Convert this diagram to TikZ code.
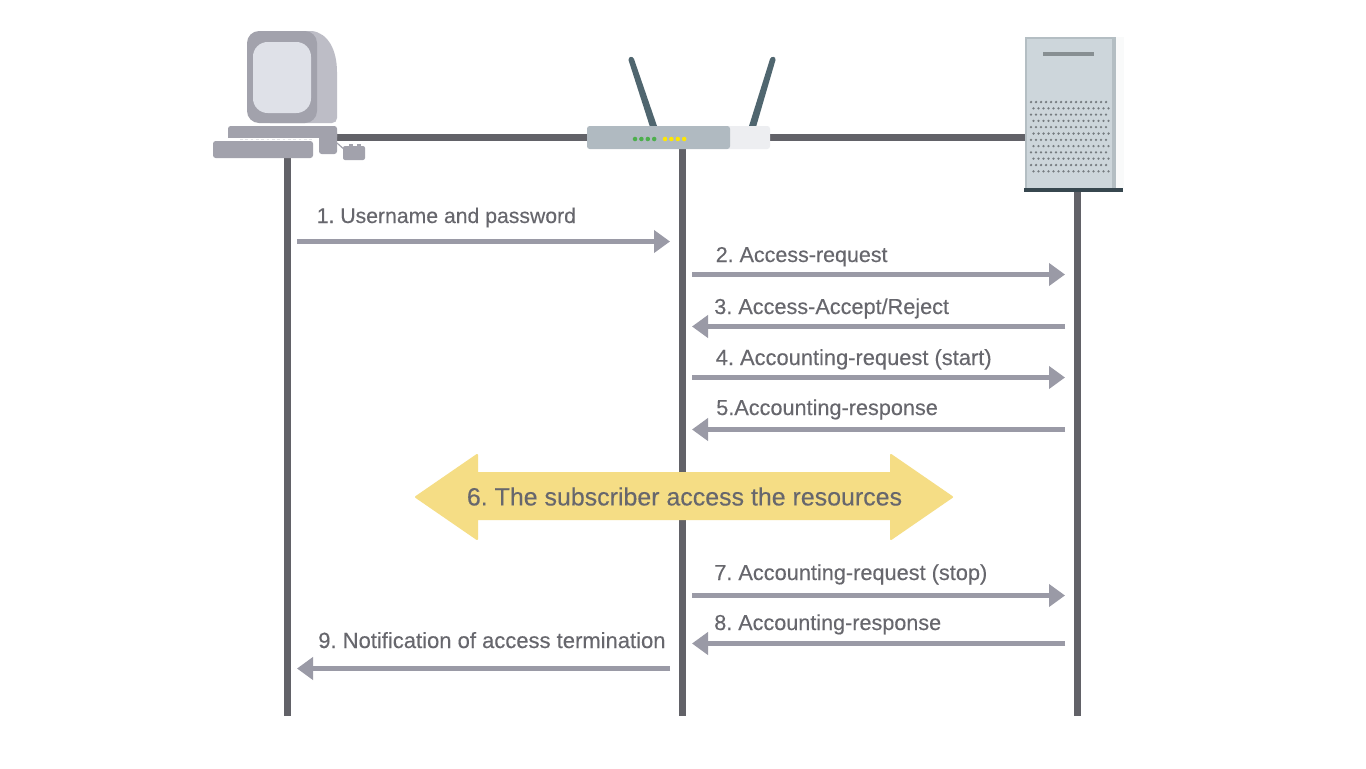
\documentclass[tikz,border=0pt]{standalone}
\usepackage{fontspec}
\setmainfont{Liberation Sans}[FakeBold=0.25]
\frenchspacing
\usetikzlibrary{arrows.meta}
\definecolor{lifeC}{HTML}{626268}
\definecolor{arrC}{HTML}{9A9AA6}
\definecolor{txtC}{HTML}{67676D}
\definecolor{yelC}{HTML}{F5DD85}
\definecolor{monA}{HTML}{A2A2AC}
\definecolor{monB}{HTML}{BDBDC6}
\definecolor{monS}{HTML}{DFE1E8}
\definecolor{rtrC}{HTML}{B0BAC1}
\definecolor{rtrL}{HTML}{EDEEF1}
\definecolor{antC}{HTML}{50666F}
\definecolor{srvC}{HTML}{CDD6DB}
\definecolor{srvS}{HTML}{B4BEC3}
\definecolor{srvD}{HTML}{37474F}
\tikzset{
  x=0.75pt,y=-0.75pt,
  life/.style={draw=lifeC,line width=5pt},
  msg/.style={draw=arrC,line width=3.9pt,-{Triangle[length=12pt,width=16.5pt]},shorten >=0pt},
  lbl/.style={anchor=base west,inner sep=0pt,text=txtC,font=\fontsize{#1}{18}\selectfont},
  big/.style={anchor=center,inner sep=0pt,text=txtC,font=\fontsize{18.7}{22}\selectfont},
  led/.style={circle,inner sep=0pt,minimum size=3.4pt},
}
\begin{document}
\begin{tikzpicture}
\useasboundingbox (0,0) rectangle (1366,768);
\fill[white] (0,0) rectangle (1366,768);
% anchors
\coordinate (pcTop) at (287.8,150);   \coordinate (pcEnd) at (287.8,716);
\coordinate (rtTop) at (682.3,145);   \coordinate (rtEnd) at (682.3,716);
\coordinate (svTop) at (1077.3,188);  \coordinate (svEnd) at (1077.3,716);
\coordinate (busL) at (335,137.5);    \coordinate (busR) at (1030,137.5);
% lifelines
\draw[life] (busL) -- (busR);
\draw[life] (pcTop) -- (pcEnd);
\draw[life] (rtTop) -- (rtEnd);
\draw[life] (svTop) -- (svEnd);
% computer
\draw[monA,line width=0.9pt] (337,143) -- (346,151);
\fill[monB] (270,31) -- (312,31) .. controls (328,33) and (337,50) .. (337,72) -- (337,118) .. controls (337,121) and (335,123) .. (332,123) -- (270,123) -- cycle;
\fill[monA,rounded corners=9pt] (247,31) rectangle (317,123);
\fill[monS,rounded corners=11pt] (253,42) rectangle (311,113);
\fill[monA,rounded corners=2pt] (228,126) rectangle (337,140);
\fill[monA,rounded corners=2pt] (319,130) rectangle (337,154);
\fill[white] (228,137.5) rectangle (319,141);
\fill[monA,rounded corners=2pt] (213,141) rectangle (313,158);
\draw[white!70!monA,line width=0.9pt,dash pattern=on 2pt off 2pt] (240,139.5) -- (312,139.5);
\fill[monA,rounded corners=1.5pt] (343,146) rectangle (365,160);
\fill[monA] (349,144) rectangle (353,147);
\fill[monA] (357,144) rectangle (361,147);
% router
\fill[antC] (628.5,60) .. controls (628.5,56) and (633,56) .. (634,59) -- (657,126) -- (650,127) -- cycle;
\fill[antC] (770,59) .. controls (771,56) and (776,56) .. (775.5,60) -- (756,127) -- (749,126) -- cycle;
\fill[rtrL,rounded corners=2pt] (725,126) rectangle (770,149);
\fill[rtrC,rounded corners=2pt] (587,126) rectangle (730,149);
\foreach \i in {0,1,2,3} {
  \node[led,fill=green!55!black!70!white] (g\i) at (635+6.4*\i,139) {};
  \node[led,fill=yellow!90!orange] (y\i) at (665+6.4*\i,139) {};
}
% server
\fill[white!92!srvS] (1116,37) rectangle (1124,188);
\fill[srvC] (1025,37) rectangle (1116,188);
\fill[srvS] (1025,37) rectangle (1116,39);
\fill[srvS] (1025,37) rectangle (1027,188);
\fill[srvS] (1112,37) rectangle (1116,188);
\draw[srvS!75!black,line width=3pt] (1043,53.5) -- (1094,53.5);
\foreach \r in {0,...,11} {
  \pgfmathsetmacro{\off}{mod(\r,2)*2.5}
  \foreach \c in {0,...,15} {
    \fill[srvS!65!black] (1031+\off+5*\c,102+6.3*\r) circle[radius=0.95pt];
  }
}
\draw[srvD,line width=3pt] (1024,190) -- (1123,190);
% messages
\coordinate (a1s) at (297,241.5); \coordinate (a1e) at (670,241.5);
\coordinate (a2s) at (692,274.5); \coordinate (a2e) at (1065,274.5);
\coordinate (a3s) at (1065,326.5); \coordinate (a3e) at (692,326.5);
\coordinate (a4s) at (692,377.5); \coordinate (a4e) at (1065,377.5);
\coordinate (a5s) at (1065,429.5); \coordinate (a5e) at (692,429.5);
\coordinate (a7s) at (692,595.5); \coordinate (a7e) at (1065,595.5);
\coordinate (a8s) at (1065,643.5); \coordinate (a8e) at (692,643.5);
\coordinate (a9s) at (670,668.5); \coordinate (a9e) at (297,668.5);
\foreach \n in {1,2,3,4,5,7,8,9} { \draw[msg] (a\n s) -- (a\n e); }
\node[lbl=15.9] (t1) at (316.5,223) {1. Username and password};
\node[lbl=16.1] (t2) at (715.5,262) {2. Access-request};
\node[lbl=16.25] (t3) at (714,314) {3. Access-Accept/Reject};
\node[lbl=16.4] (t4) at (715.5,365) {4. Accounting-request (start)};
\node[lbl=16.25] (t5) at (716,415) {5.Accounting-response};
\node[lbl=16.3] (t7) at (714,580) {7. Accounting-request (stop)};
\node[lbl=16.2] (t8) at (714,630) {8. Accounting-response};
\node[lbl=16.5] (t9) at (318,648) {9. Notification of access termination};
% yellow arrow
\fill[yelC,draw=yelC,line width=1.5pt,line join=round] (416,497) -- (477,455) -- (477,473) -- (891,473) -- (891,455) -- (952,497) -- (891,539) -- (891,519) -- (477,519) -- (477,539) -- cycle;
\node[big] (t6) at (684.5,496.5) {6. The subscriber access the resources};
\end{tikzpicture}
\end{document}
